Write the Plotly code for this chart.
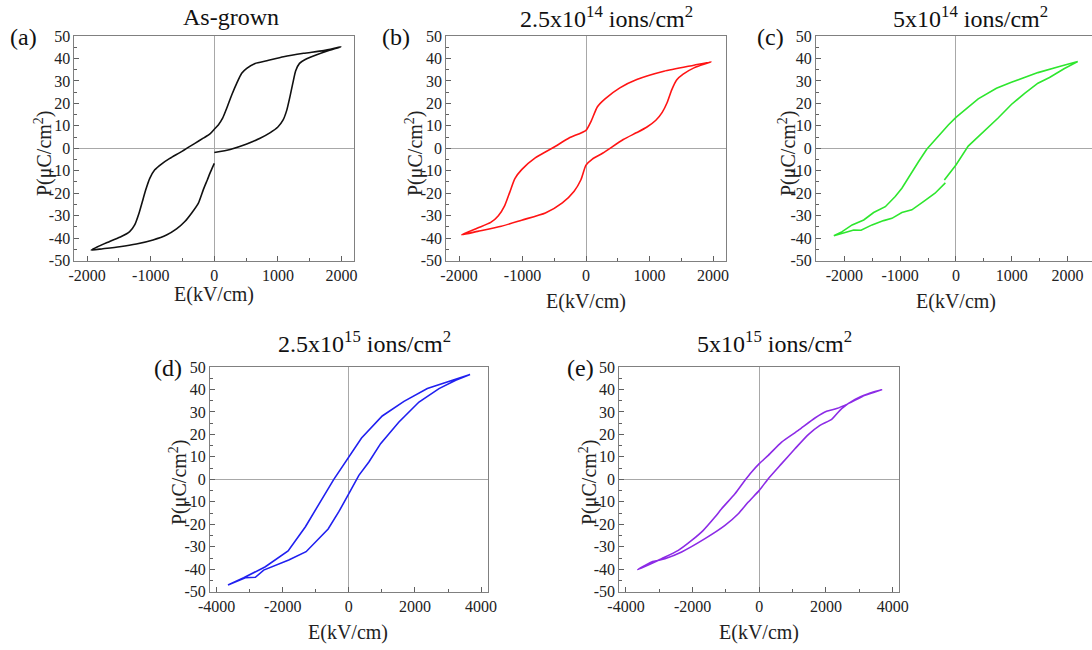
import plotly.graph_objects as go

# ---------------- data ----------------
a_E = [0, 250, 500, 720, 880, 1000, 1080, 1140, 1190, 1235, 1280, 1340, 1430, 1600, 1800, 1990,
       1720, 1404, 1089, 826, 642, 510, 431, 352, 274, 195, 131, 63, 0, -68, -174, -305, -410,
       -542, -700, -831, -936, -1015, -1078, -1131, -1184, -1252, -1331, -1462, -1646, -1936,
       -1752, -1489, -1226, -963, -752, -594, -463, -358, -252, -174, -110, -58, 0]
a_P = [-1.9, -0.5, 1.8, 4.5, 7.0, 9.5, 12.5, 17.0, 23.0, 29.0, 34.5, 37.8, 39.5, 41.5, 43.5, 45.2,
       43.5, 42.3, 40.8, 39.0, 37.8, 35.6, 33.4, 28.9, 23.7, 17.8, 13.4, 10.4, 8.5, 6.4, 4.5, 2.2, 0.4,
       -1.9, -4.5, -7.0, -9.6, -13.4, -18.5, -23.7, -28.9, -34.1, -37.1, -39.3, -41.5, -45.3,
       -44.7, -43.8, -42.6, -40.8, -38.6, -35.9, -32.6, -28.9, -24.5, -18.5, -14.1, -10.4, -6.7]

b_E = [0, 100, 267, 587, 800, 960, 1100, 1200, 1280, 1350, 1430, 1530, 1700, 1970,
       1700, 1227, 800, 533, 300, 180, 80, 0, -267, -480, -800, -1013, -1120, -1200, -1280,
       -1380, -1500, -1707, -1960,
       -1707, -1333, -1013, -640, -373, -187, -80, 0]
b_P = [-7.5, -4.8, -2.1, 3.9, 7.0, 9.5, 12.5, 16.0, 20.5, 26.0, 30.5, 33.0, 35.8, 38.5,
       37.0, 34.3, 30.6, 26.9, 22.0, 18.5, 12.0, 8.0, 4.6, 0.9, -4.3, -9.5, -13.5, -19.5, -25.5,
       -30.0, -33.0, -35.5, -38.5,
       -37.0, -34.7, -32.0, -28.8, -24.3, -19.1, -14.0, -7.5]

c_E = [-208, 0, 220, 458, 756, 994, 1232, 1470, 1678, 1946, 2184,
       1856, 1470, 994, 726, 399, 161, 0, -137, -315, -524, -672, -821, -970, -1089, -1267,
       -1476, -1654, -1862, -2041, -2190,
       -2011, -1833, -1702, -1505, -1297, -1148, -970, -791, -583, -375, -190]
c_P = [-14.1, -7.4, 1.0, 6.5, 13.5, 19.5, 24.5, 29.0, 31.5, 35.5, 38.6,
       36.4, 33.7, 29.4, 26.7, 22.0, 17.1, 13.8, 10.4, 5.2, -0.4, -6.0, -11.9, -17.8, -21.5, -26.0,
       -28.6, -31.9, -34.1, -37.1, -38.9,
       -37.8, -36.4, -36.5, -34.1, -32.2, -31.2, -28.6, -27.4, -23.7, -20.0, -15.4]

d_E = [0, 303, 606, 960, 1515, 2121, 2727, 3232, 3666,
       3131, 2374, 1667, 1010, 384, 0, -455, -859, -1313, -1838, -2525, -3181, -3656,
       -3434, -3131, -2828, -2576, -1818, -1293, -626, -303, 0]
d_P = [-6.4, 1.8, 7.7, 15.9, 25.5, 34.4, 40.4, 44.1, 46.7,
       44.1, 40.4, 34.7, 28.2, 18.4, 9.9, 0.0, -9.9, -21.1, -31.9, -38.9, -43.8, -47.0,
       -45.5, -43.8, -43.6, -40.4, -35.9, -32.2, -22.1, -14.4, -6.4]

e_E = [0, 270, 670, 1070, 1470, 1820, 2170, 2470, 2870, 3270, 3670,
       3170, 2670, 2320, 2020, 1670, 1170, 670, 270, 0, -230, -430, -730, -1130, -1330, -1680,
       -2030, -2430, -2930, -3650,
       -3230, -2830, -2330, -1630, -1030, -630, -330, 0]
e_P = [-4.9, 0.3, 7.0, 13.6, 19.9, 24.0, 26.7, 31.5, 35.6, 38.1, 39.9,
       37.4, 33.7, 31.5, 30.3, 27.3, 21.8, 16.6, 10.7, 7.0, 3.3, -0.4, -6.4, -13.1, -16.8, -22.7,
       -27.2, -31.6, -35.3, -40.2,
       -36.8, -35.3, -32.3, -26.4, -20.5, -15.3, -10.1, -4.9]

titles = ["As-grown",
          "2.5x10<sup>14</sup> ions/cm<sup>2</sup>",
          "5x10<sup>14</sup> ions/cm<sup>2</sup>",
          "2.5x10<sup>15</sup> ions/cm<sup>2</sup>",
          "5x10<sup>15</sup> ions/cm<sup>2</sup>"]
panel_labels = ["(a)", "(b)", "(c)", "(d)", "(e)"]
x_title = "E(kV/cm)"
y_title = "P(\u03bcC/cm<sup>2</sup>)"

y_tickvals = [50, 40, 30, 20, 10, 0, -10, -20, -30, -40, -50]
y_ticktext = ["50", "40", "30", "20", "10", "0", "-10", "-20", "-30", "-40", "-50"]
y_minor = [45, 35, 25, 15, 5, -5, -15, -25, -35, -45]
x1_tickvals = [-2000, -1000, 0, 1000, 2000]
x1_ticktext = ["-2000", "-1000", "0", "1000", "2000"]
x1_minor = [-2500, -1500, -500, 500, 1500, 2500]
x2_tickvals = [-4000, -2000, 0, 2000, 4000]
x2_ticktext = ["-4000", "-2000", "0", "2000", "4000"]
x2_minor = [-3000, -1000, 1000, 3000]

# ---------------- layout helpers ----------------
W, H = 1092, 650
def fx(p):
    return p / W
def fy(p):
    return 1 - p / H

FONT = "Liberation Serif"

panels = [
    dict(E=a_E, P=a_P, color="#111111", xpx=(74.4, 354.2), ypx=(36, 260.6), xr=[-2200, 2200],
         xt=(x1_tickvals, x1_ticktext, x1_minor), shape="spline",
         title_xy=(231, 17), lab_xy=(23, 37), xt_xy=(214, 294), yt_xy=(43, 153)),
    dict(E=b_E, P=b_P, color="#ff1414", xpx=(446.3, 725.7), ypx=(36, 260.6), xr=[-2200, 2200],
         xt=(x1_tickvals, x1_ticktext, x1_minor), shape="spline",
         title_xy=(606, 17), lab_xy=(396, 37), xt_xy=(586, 301), yt_xy=(414, 153)),
    dict(E=c_E, P=c_P, color="#2ee62e", xpx=(816, 1092), ypx=(36, 260.6), xr=[-2510, 2440],
         xt=(x1_tickvals, x1_ticktext, x1_minor), shape="linear",
         title_xy=(970, 17), lab_xy=(770, 37), xt_xy=(956, 301), yt_xy=(787, 153)),
    dict(E=d_E, P=d_P, color="#2020f0", xpx=(210, 487.7), ypx=(367, 591.7), xr=[-4200, 4200],
         xt=(x2_tickvals, x2_ticktext, x2_minor), shape="linear",
         title_xy=(364, 342), lab_xy=(168, 368), xt_xy=(348, 632), yt_xy=(178, 482)),
    dict(E=e_E, P=e_P, color="#8c2be6", xpx=(619.3, 899.3), ypx=(367, 591.7), xr=[-4200, 4200],
         xt=(x2_tickvals, x2_ticktext, x2_minor), shape="spline",
         title_xy=(774, 342), lab_xy=(580, 368), xt_xy=(759, 632), yt_xy=(588, 482)),
]

fig = go.Figure()
annotations = []
for i, pn in enumerate(panels, start=1):
    xa = "x" if i == 1 else f"x{i}"
    ya = "y" if i == 1 else f"y{i}"
    line = dict(color=pn["color"], width=1.6)
    if pn["shape"] == "spline":
        line["shape"] = "spline"
        line["smoothing"] = 0.6
    fig.add_trace(go.Scatter(x=pn["E"], y=pn["P"], mode="lines", line=line,
                             xaxis=xa, yaxis=ya, showlegend=False, hoverinfo="skip"))
    tv, tt, mv = pn["xt"]
    common = dict(showline=True, mirror=True, linecolor="#808080", linewidth=1,
                  ticks="inside", ticklen=5, tickwidth=1, tickcolor="#606060",
                  showgrid=False, zeroline=True, zerolinecolor="#a8a8a8", zerolinewidth=1,
                  tickfont=dict(family=FONT, size=16, color="#222222"),
                  automargin=False, fixedrange=True)
    xkey = "xaxis" if i == 1 else f"xaxis{i}"
    ykey = "yaxis" if i == 1 else f"yaxis{i}"
    fig.update_layout({
        xkey: dict(common, domain=[fx(pn["xpx"][0]), fx(pn["xpx"][1])], range=pn["xr"],
                   tickmode="array", tickvals=tv, ticktext=tt, anchor=ya,
                   minor=dict(tickmode="array", tickvals=mv, ticks="inside", ticklen=3,
                              tickcolor="#606060", showgrid=False)),
        ykey: dict(common, domain=[fy(pn["ypx"][1]), fy(pn["ypx"][0])], range=[-50, 50],
                   tickmode="array", tickvals=y_tickvals, ticktext=y_ticktext, anchor=xa,
                   minor=dict(tickmode="array", tickvals=y_minor, ticks="inside", ticklen=3,
                              tickcolor="#606060", showgrid=False)),
    })
    tx, ty = pn["title_xy"]
    annotations.append(dict(text=titles[i - 1], x=fx(tx), y=fy(ty), xref="paper", yref="paper",
                            showarrow=False, xanchor="center", yanchor="middle",
                            font=dict(family=FONT, size=24, color="#111111")))
    lx, ly = pn["lab_xy"]
    annotations.append(dict(text=panel_labels[i - 1], x=fx(lx), y=fy(ly), xref="paper", yref="paper",
                            showarrow=False, xanchor="center", yanchor="middle",
                            font=dict(family=FONT, size=24, color="#111111")))
    ex, ey = pn["xt_xy"]
    annotations.append(dict(text=x_title, x=fx(ex), y=fy(ey), xref="paper", yref="paper",
                            showarrow=False, xanchor="center", yanchor="middle",
                            font=dict(family=FONT, size=20, color="#222222")))
    px_, py_ = pn["yt_xy"]
    annotations.append(dict(text=y_title, x=fx(px_), y=fy(py_), xref="paper", yref="paper",
                            showarrow=False, xanchor="center", yanchor="middle", textangle=-90,
                            font=dict(family=FONT, size=20, color="#222222")))

fig.update_layout(width=W, height=H, margin=dict(l=0, r=0, t=0, b=0, pad=0),
                  paper_bgcolor="white", plot_bgcolor="white", annotations=annotations,
                  font=dict(family=FONT), showlegend=False)

fig.write_html("out.html", config={"displayModeBar": False},
               post_script="document.body.style.margin='0px';")
